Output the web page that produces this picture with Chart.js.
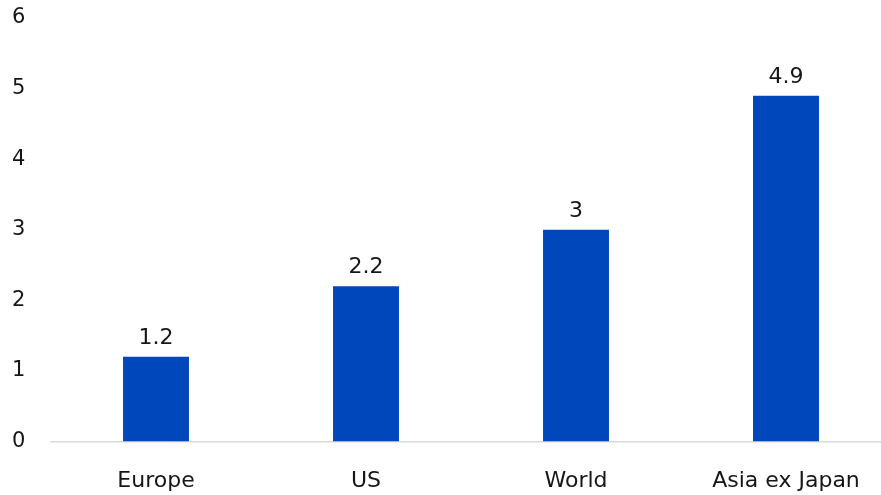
<!DOCTYPE html>
<html>
<head>
<meta charset="utf-8">
<script src="https://cdn.jsdelivr.net/npm/chart.js@4"></script>
<style>
  html, body { margin: 0; padding: 0; background: #fff; overflow: hidden; }
  #wrap { width: 891px; height: 495px; }
</style>
</head>
<body>
<div id="wrap"><canvas id="growthChart"></canvas></div>
<script>
// values
const regions = ['Europe', 'US', 'World', 'Asia ex Japan'];
const growth = [1.2, 2.2, 3, 4.9];
const yTicks = [0, 1, 2, 3, 4, 5, 6];

const barBlue = '#0047BB';
const textColor = '#161616';
const fontFamily = '"DejaVu Sans", "Open Sans", sans-serif';

Chart.defaults.font.family = fontFamily;
Chart.defaults.font.size = 22;
Chart.defaults.color = textColor;

// value labels above each bar
const valueLabels = {
    id: 'valueLabels',
    afterDatasetsDraw(chart) {
        const { ctx } = chart;
        const meta = chart.getDatasetMeta(0);
        ctx.save();
        ctx.font = '22px ' + fontFamily;
        ctx.fillStyle = textColor;
        ctx.textAlign = 'center';
        ctx.textBaseline = 'alphabetic';
        meta.data.forEach((bar, i) => {
            ctx.fillText(String(growth[i]), bar.x, bar.y - 13);
        });
        ctx.restore();
    }
};

const ctx = document.getElementById('growthChart').getContext('2d');

const data = {
    labels: regions,
    datasets: [{
        label: 'Growth',
        data: growth,
        backgroundColor: barBlue,
        categoryPercentage: 1,
        barPercentage: 0.314
    }]
};

const config = {
    type: 'bar',
    data: data,
    plugins: [valueLabels],
    options: {
        responsive: true,
        maintainAspectRatio: false,
        animation: false,
        layout: { padding: { left: 12, top: 18, right: 0, bottom: 0 } },
        scales: {
            x: {
                afterFit: (scale) => { scale.height = 53.5; },
                grid: { display: false, drawTicks: false },
                border: { display: true, color: '#d9d9d9', width: 1.5 },
                ticks: { padding: 27 }
            },
            y: {
                min: 0,
                max: 6,
                afterBuildTicks: (scale) => {
                    scale.ticks = yTicks.map(v => ({ value: v }));
                },
                afterFit: (scale) => { scale.width = 39; },
                grid: { display: false, drawTicks: false },
                border: { display: false },
                ticks: { crossAlign: 'far', padding: 0, font: { size: 21 } }
            }
        },
        plugins: {
            legend: { display: false },
            tooltip: { enabled: false }
        }
    }
};

const growthChart = new Chart(ctx, config);
</script>
</body>
</html>
